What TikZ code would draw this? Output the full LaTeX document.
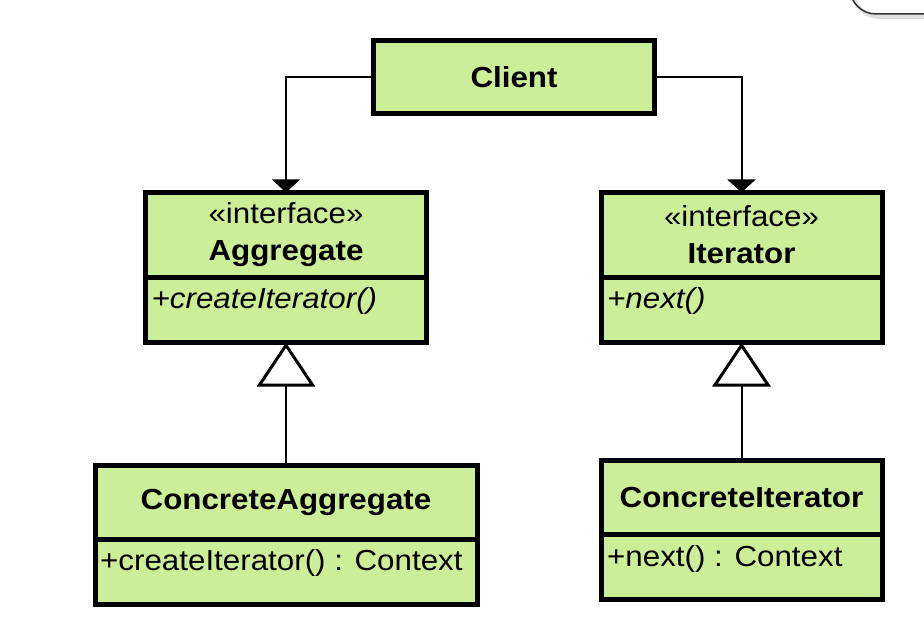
\documentclass[tikz,border=0pt]{standalone}
\usepackage{fontspec}
\setmainfont{Liberation Sans}[FakeStretch=1.08]
\usetikzlibrary{positioning,arrows.meta}
\definecolor{classgreen}{RGB}{204,238,153}

\begin{document}
\begin{tikzpicture}
        [x=1pt, y=-1pt,
    font=\fontsize{29}{37}\selectfont,
    head/.style={draw, line width=5pt, fill=classgreen, minimum width=281pt, align=center, inner sep=0pt, outer sep=0pt},
    body/.style={draw, line width=5pt, fill=classgreen, minimum width=281pt, minimum height=65pt, inner sep=0pt, outer sep=0pt},
    op/.style={anchor=base west, inner sep=0pt},
    uses/.style={line width=2pt, -{Triangle[length=13pt,width=28pt]}},
    inherits/.style={line width=2pt, -{Triangle[fill=white,length=44pt,width=58pt,line width=3pt]}}]
    \useasboundingbox (0,0) rectangle (924,631);
    \fill[white] (0,0) rectangle (924,631);

    % corner of the window behind
    \draw[gray!25, line width=4pt, rounded corners=26pt] (853,-40) -- (853,17) -- (960,17);
    \draw[black!80, line width=1.5pt, rounded corners=26pt] (850,-40) -- (850,14) -- (960,14);

    \node[head, minimum height=73pt] (client) at (514,77) {\textbf{Client}};

    \node[head, minimum height=85pt] (agg) at (286,235) {«interface»\\\textbf{Aggregate}};
    \node[body, below=0pt of agg] (aggm) {};
    \node[op] (aggop) at ([shift={(6,31)}]aggm.north west) {\itshape +createIterator()};

    \node[head, minimum height=85pt] (it) at (741.5,235) {«interface»\\\textbf{Iterator}};
    \node[body, below=0pt of it] (itm) {};
    \node[op] (itop) at ([shift={(6,31)}]itm.north west) {\itshape +next()};

    \node[head, minimum width=382pt, minimum height=73.5pt] (cagg) at (286,502.25) {\textbf{ConcreteAggregate}};
    \node[body, minimum width=382pt, minimum height=65.5pt, below=0pt of cagg] (caggm) {};
    \node[op] (caggop) at ([shift={(5,31)}]caggm.north west) {+createIterator() : Context};

    \node[head, minimum height=73.5pt] (cit) at (741.5,497.25) {\textbf{ConcreteIterator}};
    \node[body, minimum height=65.5pt, below=0pt of cit] (citm) {};
    \node[op] (citop) at ([shift={(6,32)}]citm.north west) {+next() : Context};

    \draw[uses] (client.west) -| (agg.north);
    \draw[uses] (client.east) -| (it.north);
    \draw[inherits] (cagg.north) -- (aggm.south);
    \draw[inherits] (cit.north) -- (itm.south);

    \end{tikzpicture}
\end{document}
